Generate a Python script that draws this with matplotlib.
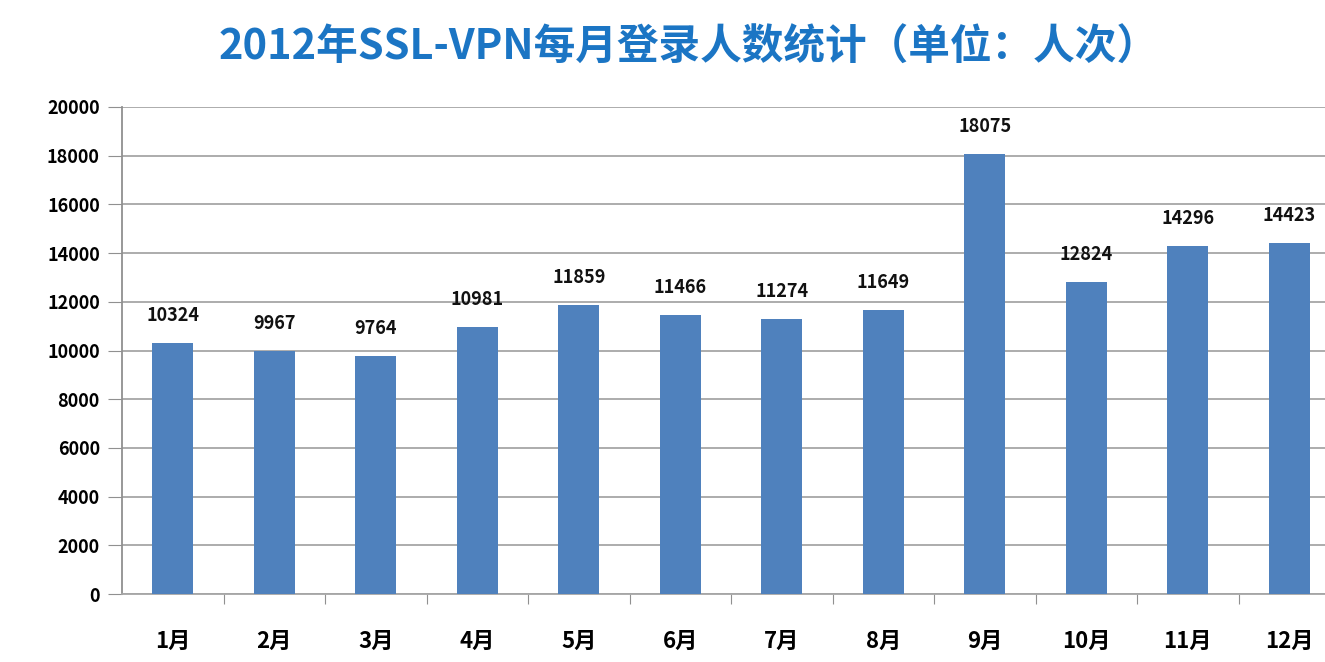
import matplotlib.pyplot as plt

plt.rcParams['font.family'] = ['Noto Sans CJK SC', 'DejaVu Sans']

months = ['1月', '2月', '3月', '4月', '5月', '6月', '7月', '8月', '9月', '10月', '11月', '12月']
logins = [10324, 9967, 9764, 10981, 11859, 11466, 11274, 11649, 18075, 12824, 14296, 14423]
yticks = [0, 2000, 4000, 6000, 8000, 10000, 12000, 14000, 16000, 18000, 20000]

fig = plt.figure(figsize=(13.25, 6.62), dpi=100)
ax = fig.add_axes([122 / 1325, 68 / 662, 1218 / 1325, 487 / 662])

x = list(range(len(months)))
bars = ax.bar(x, logins, width=0.4, color='#4F81BD', zorder=3)
for xi, v in zip(x, logins):
    ax.annotate(str(v), (xi, v), xytext=(0, 13), textcoords='offset points',
                ha='center', va='bottom', fontsize=13, fontweight='bold', color='#111111')

ax.set_xlim(-0.5, len(months) - 0.5)
ax.set_ylim(0, 20000)
ax.set_yticks(yticks)
ax.set_yticklabels([str(t) for t in yticks], fontsize=13, fontweight='bold')
ax.set_xticks([i + 0.5 for i in x[:-1]], minor=False)
ax.set_xticklabels([])
ax.set_xticks(x, minor=True)
ax.set_xticklabels(months, minor=True, fontsize=16, fontweight='bold')
ax.tick_params(axis='x', which='major', length=7, color='#909090', direction='out')
ax.tick_params(axis='x', which='minor', length=0, pad=26)
ax.tick_params(axis='y', length=10, color='#909090', pad=6)

ax.grid(axis='y', color='#A6A6A6', linewidth=1.3, zorder=0)
for s in ['top', 'right']:
    ax.spines[s].set_visible(False)
ax.spines['left'].set_color('#909090')
ax.spines['bottom'].set_color('#A6A6A6')
ax.spines['left'].set_linewidth(1.3)
ax.spines['bottom'].set_linewidth(1.3)

fig.text(0.52, 0.928, '2012年SSL-VPN每月登录人数统计（单位：人次）', ha='center', va='center',
         fontsize=30, fontweight='bold', color='#1B75C4')

fig.savefig('out.png', dpi=100)
